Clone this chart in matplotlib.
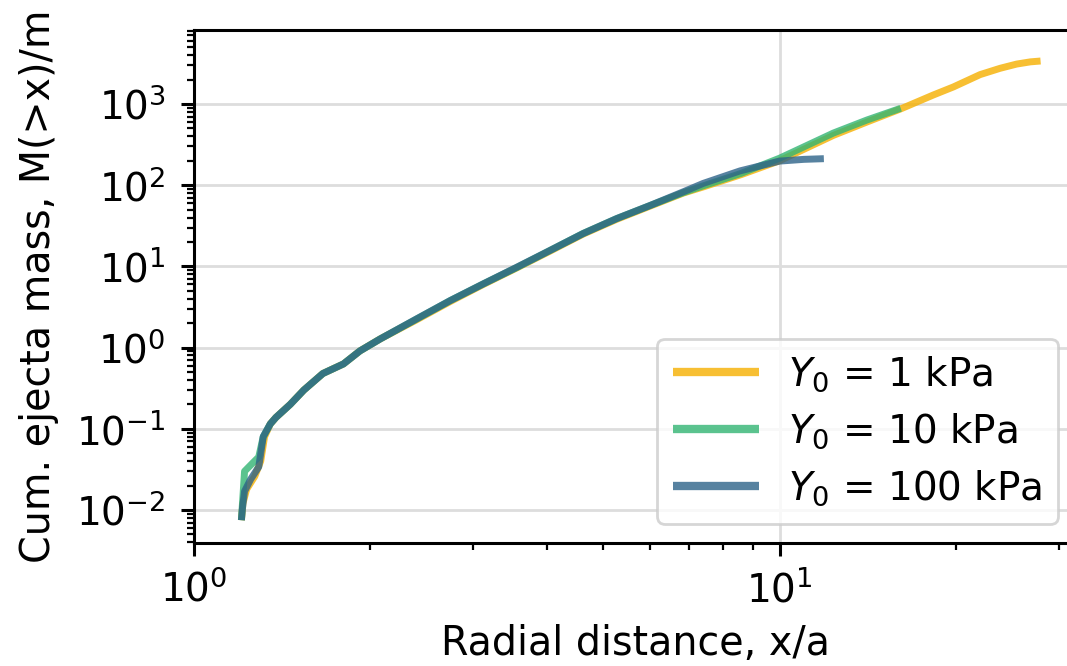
import numpy as np
import matplotlib
matplotlib.use("Agg")
import matplotlib.pyplot as plt

# Cumulative ejecta mass vs radial distance
x_1kpa = [1.205, 1.212, 1.23, 1.27, 1.30, 1.32, 1.35, 1.38, 1.46, 1.54, 1.66, 1.80, 1.92, 2.08,
          2.40, 2.74, 3.12, 3.56, 4.06, 4.62, 5.27, 6.0, 6.85, 7.4, 8.6, 10.0, 12.35, 14.1, 16.1,
          18.3, 19.8, 22.0, 23.8, 25.4, 26.8, 27.9]
y_1kpa = [0.0075, 0.012, 0.018, 0.026, 0.040, 0.080, 0.115, 0.138, 0.20, 0.30, 0.48, 0.63, 0.91, 1.28,
          2.2, 3.7, 6.0, 9.6, 15.5, 25.0, 38.0, 55.0, 80.0, 95.0, 135.0, 200.0, 410.0, 600.0, 870.0,
          1290.0, 1620.0, 2300.0, 2750.0, 3100.0, 3300.0, 3380.0]

x_10kpa = [1.205, 1.21, 1.22, 1.26, 1.29, 1.313, 1.35, 1.38, 1.46, 1.54, 1.66, 1.80, 1.92, 2.08,
           2.40, 2.74, 3.12, 3.56, 4.06, 4.62, 5.27, 6.0, 6.85, 7.4, 8.6, 10.0, 12.35, 14.1, 16.1]
y_10kpa = [0.0075, 0.012, 0.030, 0.038, 0.045, 0.080, 0.115, 0.138, 0.20, 0.30, 0.48, 0.63, 0.91, 1.28,
           2.25, 3.8, 6.1, 9.7, 15.8, 25.5, 38.8, 56.0, 81.0, 98.0, 140.0, 215.0, 438.0, 635.0, 885.0]

x_100kpa = [1.205, 1.21, 1.22, 1.25, 1.29, 1.313, 1.35, 1.38, 1.46, 1.54, 1.66, 1.80, 1.92, 2.08,
            2.40, 2.74, 3.12, 3.56, 4.06, 4.62, 5.27, 6.0, 6.85, 7.4, 8.56, 10.0, 11.0, 11.9]
y_100kpa = [0.0075, 0.0105, 0.017, 0.024, 0.034, 0.080, 0.115, 0.138, 0.20, 0.30, 0.48, 0.63, 0.91, 1.28,
            2.26, 3.8, 6.1, 9.8, 15.8, 25.4, 38.8, 56.0, 83.0, 105.0, 150.0, 198.0, 208.0, 212.0]

labels = [r"$Y_0$ = 1 kPa", r"$Y_0$ = 10 kPa", r"$Y_0$ = 100 kPa"]
colors = ["#F5B000", "#32B573", "#2D6388"]

fig = plt.figure(figsize=(10.67, 6.66), dpi=100)
ax = fig.add_axes([0.1818, 0.1847, 0.8276, 0.7703])  # right edge runs past the canvas

series = [(x_1kpa, y_1kpa), (x_10kpa, y_10kpa), (x_100kpa, y_100kpa)]
for (xs, ys), lab, c in zip(series, labels, colors):
    ax.plot(xs, ys, color=c, lw=5, alpha=0.8, label=lab, solid_capstyle="butt")

ax.set_xscale("log")
ax.set_yscale("log")
ax.set_xlim(1, 32.2)
ax.set_ylim(0.00393, 8150)

ax.grid(True, which="major", color="#dddddd", lw=2)
ax.set_axisbelow(True)
for s in ["left", "bottom", "top"]:
    ax.spines[s].set_linewidth(2.2)
ax.spines["right"].set_visible(False)

ax.tick_params(which="major", length=9.5, width=2.2, labelsize=28, pad=10)
ax.tick_params(which="minor", length=5, width=1.6)
ax.tick_params(axis="y", which="major", pad=11)

ax.set_xlabel("Radial distance, x/a", fontsize=28.5, labelpad=10)
ax.set_ylabel("Cum. ejecta mass, M(>x)/m", fontsize=28.5, labelpad=12)

leg = ax.legend(loc="lower right", fontsize=28, handlelength=2.2, handletextpad=0.75,
                borderaxespad=0.5, labelspacing=0.45, framealpha=0.8)
leg.get_frame().set_linewidth(2)
for h in leg.get_lines():
    h.set_linewidth(6)

plt.savefig("out.png", dpi=100)
